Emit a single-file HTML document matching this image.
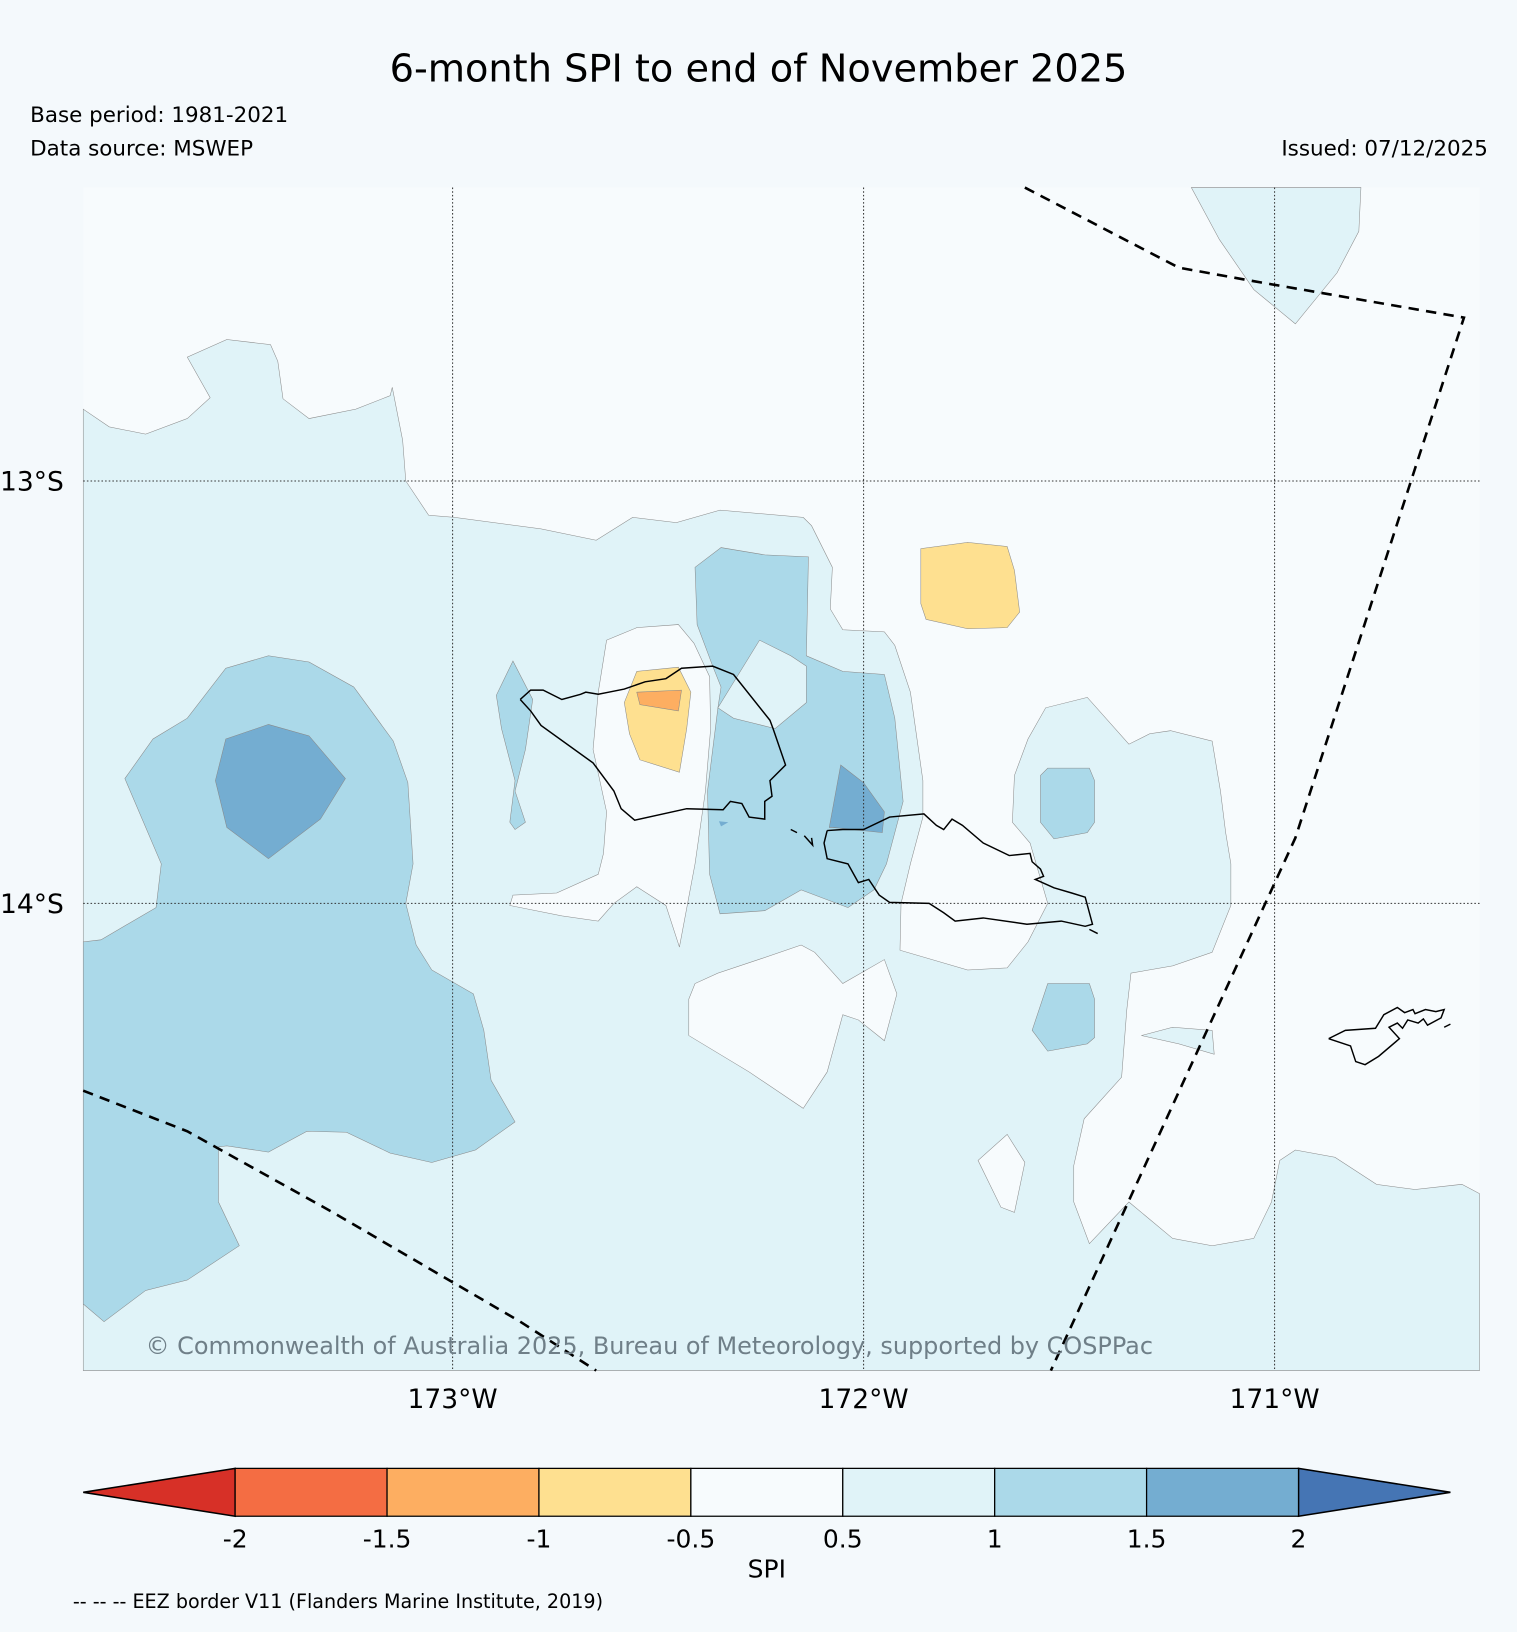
<!DOCTYPE html>
<html><head><meta charset="utf-8"><style>
html,body{margin:0;padding:0;background:#f4f9fc;}
svg{display:block;font-family:"DejaVu Sans","Liberation Sans",sans-serif;}
</style></head><body>
<svg id="chart" width="1517" height="1632" viewBox="0 0 1458 1568" xmlns="http://www.w3.org/2000/svg">
<rect width="1458" height="1568" fill="#f4f9fc"/>
<text x="729" y="78" font-size="36.8" text-anchor="middle" fill="#000">6-month SPI to end of November 2025</text>
<text x="29" y="117" font-size="20.6">Base period: 1981-2021</text>
<text x="29" y="149" font-size="20.6">Data source: MSWEP</text>
<text x="1430" y="149" font-size="20.6" text-anchor="end">Issued: 07/12/2025</text>
<g>
<rect x="80" y="180" width="1342" height="1137" fill="#f7fbfd"/>
<polygon fill="#e0f3f8" stroke="#888" stroke-width="0.5" points="80,393 105,410 140,417 180,402 202,382 180,343 218,326 260,331 267,347 272,383 297,402 342,393 375,380 377,372 387,423 390,462 412,495 437,497 520,508 573,519 608,497 650,502 692,490 772,497 780,505 800,545 798,585 810,605 850,607 860,620 875,665 887,750 887,785 875,830 866,868 865,913 930,932 968,930 988,905 1007,868 990,810 973,790 975,745 988,710 1005,680 1045,670 1085,715 1105,705 1125,702 1165,712 1173,760 1178,800 1183,830 1183,870 1165,915 1127,928 1087,935 1083,970 1078,1035 1042,1075 1032,1120 1032,1155 1047,1195 1085,1155 1127,1190 1165,1197 1205,1190 1222,1155 1230,1115 1245,1105 1283,1112 1323,1138 1360,1143 1405,1138 1422,1147 1422,1317 80,1317"/>
<polygon fill="#e0f3f8" stroke="#888" stroke-width="0.5" points="1145,180 1308,180 1306,222 1285,262 1245,311 1205,278 1172,230"/>
<polygon fill="#e0f3f8" stroke="#888" stroke-width="0.5" points="1097,995 1127,987 1165,990 1167,1013 1133,1003"/>
<polygon fill="#f7fbfd" stroke="#888" stroke-width="0.5" points="490,870 493,860 535,858 575,840 580,820 583,780 570,720 575,665 583,615 612,603 652,600 667,618 682,650 683,700 678,760 668,830 653,910 640,870 612,852 590,868 575,885 540,880"/>
<polygon fill="#f7fbfd" stroke="#888" stroke-width="0.5" points="662,960 668,945 690,935 735,920 770,908 783,915 810,945 850,922 862,955 850,1000 825,980 810,975 795,1030 772,1065 720,1030 662,995"/>
<polygon fill="#f7fbfd" stroke="#888" stroke-width="0.5" points="940,1115 968,1090 985,1117 975,1165 962,1160"/>
<polygon fill="#abd9e9" stroke="#888" stroke-width="0.5" points="80,905 97,903 150,872 155,830 120,748 147,710 180,690 217,642 258,630 297,636 340,660 378,712 392,752 397,830 390,868 400,908 415,932 455,955 465,990 472,1038 495,1078 457,1105 415,1117 375,1108 333,1088 295,1087 258,1107 218,1101 210,1102 210,1155 230,1197 180,1230 140,1240 100,1270 80,1253"/>
<polygon fill="#abd9e9" stroke="#888" stroke-width="0.5" points="668,545 693,526 735,533 777,535 775,630 810,645 850,648 860,690 868,770 852,830 840,855 815,872 770,855 735,875 692,878 682,840 680,760 690,680 693,660 685,640 670,600"/>
<polygon fill="#e0f3f8" stroke="#888" stroke-width="0.5" points="690,680 730,615 760,630 775,640 775,675 745,700 725,695 705,690"/>
<polygon fill="#abd9e9" stroke="#888" stroke-width="0.5" points="477,668 493,635 512,672 505,720 495,760 505,790 495,797 490,790 495,750 482,700"/>
<polygon fill="#abd9e9" stroke="#888" stroke-width="0.5" points="1000,745 1007,738 1047,738 1052,750 1052,790 1045,800 1013,806 1000,790"/>
<polygon fill="#abd9e9" stroke="#888" stroke-width="0.5" points="992,990 1007,945 1047,945 1052,960 1052,997 1045,1003 1007,1010"/>
<polygon fill="#74add1" stroke="#888" stroke-width="0.5" points="217,710 258,696 297,707 332,748 308,787 258,825 218,795 207,750"/>
<polygon fill="#74add1" stroke="#888" stroke-width="0.5" points="797,795 808,735 830,752 850,780 848,800 800,795"/>
<polygon fill="#74add1" points="691,789 700,790 693,794"/>
<polygon fill="#fee090" stroke="#888" stroke-width="0.5" points="885,527 930,521 968,525 975,548 980,588 968,603 930,604 890,595 885,580"/>
<polygon fill="#fee090" stroke="#888" stroke-width="0.5" points="600,675 612,645 652,641 664,665 660,700 653,742 615,730 605,705"/>
<polygon fill="#fdae61" stroke="#888" stroke-width="0.5" points="612,665 655,663 652,683 615,677"/>
<g stroke="#333" stroke-width="1" stroke-dasharray="1.5,2">
<line x1="435" y1="180" x2="435" y2="1317"/><line x1="830" y1="180" x2="830" y2="1317"/><line x1="1225" y1="180" x2="1225" y2="1317"/>
<line x1="80" y1="462" x2="1422" y2="462"/><line x1="80" y1="868" x2="1422" y2="868"/>
</g>
<g fill="none" stroke="#000" stroke-width="1.4">
<polyline points="500,672 510,663 522,663 540,672 558,667 563,665 575,667 585,665 600,662 620,655 640,652 655,642 685,640 705,648 740,692 743,700 755,735 740,750 742,765 735,770 735,787 720,785 713,772 702,770 695,778 660,777 610,788 597,777 590,760 570,733 520,697 510,683 500,672"/>
<polyline points="795,798 810,797 830,797 855,785 888,782 900,793 907,797 915,787 925,793 945,810 970,822 990,820 992,828 1000,835 1003,842 995,845 1013,853 1030,858 1043,862 1050,888 1043,890 1020,885 987,888 945,882 918,885 907,877 893,868 855,867 845,860 835,845 825,848 815,830 795,825 792,810 795,798"/>
<polyline points="760,797 766,800"/><polyline points="773,803 781,812 780,805"/><polyline points="1047,893 1055,897"/>
<polyline points="1277,998 1293,990 1322,988 1330,975 1343,968 1350,973 1358,970 1360,974 1370,970 1380,972 1388,970 1385,978 1372,985 1368,979 1363,983 1353,980 1348,988 1343,983 1335,987 1345,998 1325,1015 1312,1023 1303,1020 1298,1005 1277,998"/>
<polyline points="1388,987 1394,984"/>
</g>
<g fill="none" stroke="#000" stroke-width="2.5" stroke-dasharray="10,7">
<polyline points="985,180 1133,257 1205,270 1407,305 1245,805 1010,1317"/>
<polyline points="80,1048 180,1087 320,1165 500,1270 573,1317"/>
</g>
<text x="140" y="1301" font-size="23" fill="#6f7f88">© Commonwealth of Australia 2025, Bureau of Meteorology, supported by COSPPac</text>
</g>
<g font-size="25.5">
<text x="0" y="471">13°S</text><text x="0" y="877">14°S</text>
</g>
<g font-size="25.5" text-anchor="middle">
<text x="435" y="1353">173°W</text><text x="830" y="1353">172°W</text><text x="1225" y="1353">171°W</text>
</g>
<g id="colorbar"></g>
<text x="737" y="1516" font-size="24" text-anchor="middle">SPI</text>
<text x="70" y="1545" font-size="18.4">-- -- -- EEZ border V11 (Flanders Marine Institute, 2019)</text>
</svg>
<script>
const levels = [-2, -1.5, -1, -0.5, 0.5, 1, 1.5, 2];
const levelColors = ["#f46d43", "#fdae61", "#fee090", "#f7fbfd", "#e0f3f8", "#abd9e9", "#74add1"];
const tickLabels = ["-2", "-1.5", "-1", "-0.5", "0.5", "1", "1.5", "2"];
const extendColors = ["#d73027", "#4575b4"];
(function(){
  const NS = "http://www.w3.org/2000/svg";
  const g = document.getElementById("colorbar");
  const x0 = 226, step = 146, y0 = 1411, h = 46, ext = 146;
  const xs = i => x0 + i * step;
  function mk(tag, attrs){ const e = document.createElementNS(NS, tag); for (const k in attrs) e.setAttribute(k, attrs[k]); g.appendChild(e); return e; }
  const left = mk("polygon", {points: `${xs(0)},${y0} ${xs(0)-ext},${y0+h/2} ${xs(0)},${y0+h}`, fill: extendColors[0], stroke: "#000", "stroke-width": 1.5});
  
  
  const n = levels.length - 1;
  const right = mk("polygon", {points: `${xs(n)},${y0} ${xs(n)+ext},${y0+h/2} ${xs(n)},${y0+h}`, fill: extendColors[1], stroke: "#000", "stroke-width": 1.5});
  
  
  for (let i = 0; i < n; i++) {
    const r = mk("rect", {x: xs(i), y: y0, width: step, height: h, fill: levelColors[i], stroke: "#000", "stroke-width": 1.2});
    
    
  }
  for (let i = 0; i < levels.length; i++) {
    const t = mk("text", {x: xs(i), y: 1487, "font-size": 24, "text-anchor": "middle"});
    t.textContent = tickLabels[i];
    
    
  }
})();
</script>
</body></html>
